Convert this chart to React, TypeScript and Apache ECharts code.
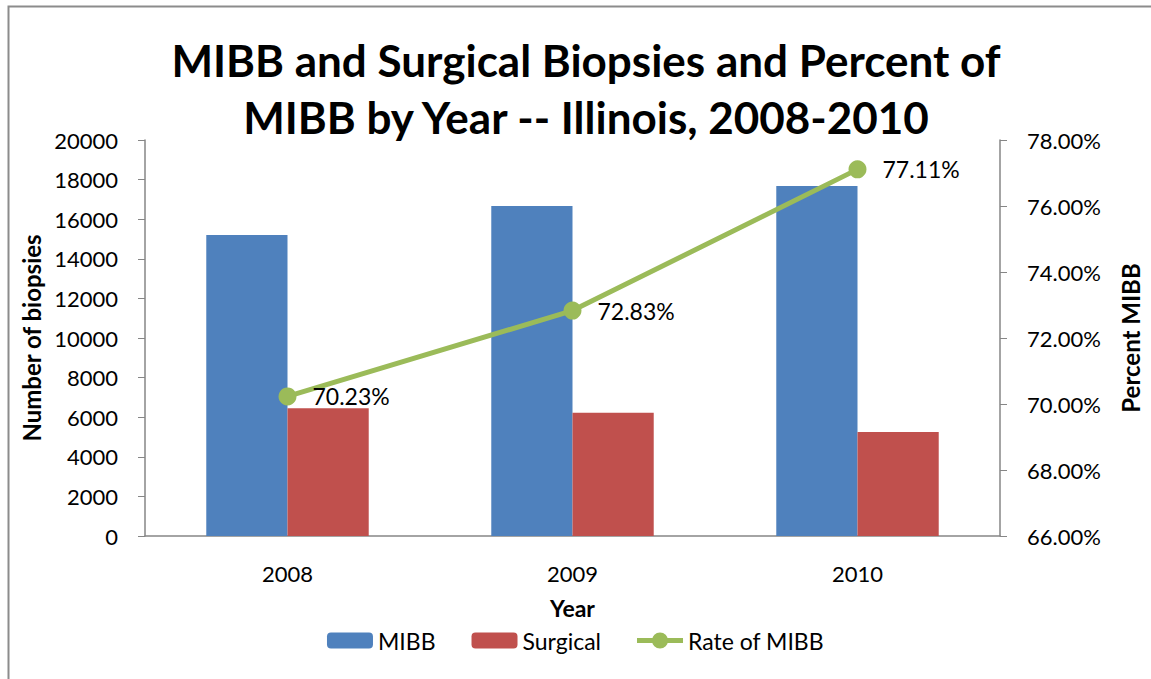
import React, { useEffect, useRef } from "react";
import * as echarts from "echarts";

const categories = ["2008", "2009", "2010"];
const mibb = [15200, 16670, 17680];
const surgical = [6450, 6220, 5250];
const rate = [70.23, 72.83, 77.11];

const FONT = "Lato, 'Open Sans', sans-serif";
const LINE_ICON =
  "path://M0,5.5 L46,5.5 L46,10.5 L0,10.5 Z M31,8 A8,8 0 1,1 15,8 A8,8 0 1,1 31,8 Z";

export default function App() {
  const ref = useRef<HTMLDivElement>(null);
  useEffect(() => {
    const chart = echarts.init(ref.current!, null, { renderer: "svg" });
    chart.setOption({
      animation: false,
      backgroundColor: "#ffffff",
      textStyle: { fontFamily: FONT },
      title: {
        text: "MIBB and Surgical Biopsies and Percent of\nMIBB by Year -- Illinois, 2008-2010",
        left: 581,
        textAlign: "center",
        top: 26,
        textStyle: { fontFamily: FONT, fontSize: 44, fontWeight: "bold", color: "#000", lineHeight: 57 },
      },
      graphic: [
        {
          type: "rect",
          shape: { x: 8.5, y: 6.5, width: 1300, height: 800 },
          style: { fill: "none", stroke: "#8c8c8c", lineWidth: 2 },
          silent: true,
        },
      ],
      legend: {
        bottom: 22,
        left: "center",
        itemGap: 36,
        itemWidth: 46,
        itemHeight: 16,
        textStyle: { fontFamily: FONT, fontSize: 23, color: "#000" },
        data: [
          { name: "MIBB" },
          { name: "Surgical" },
          { name: "Rate of MIBB", icon: LINE_ICON, itemStyle: { color: "#9bbb59", borderWidth: 0 } },
        ],
      },
      grid: { left: 145, right: 151, top: 140, bottom: 143 },
      xAxis: {
        type: "category",
        data: categories,
        name: "Year",
        nameLocation: "middle",
        nameGap: 60,
        nameTextStyle: { fontFamily: FONT, fontSize: 23, fontWeight: "bold", color: "#000" },
        axisLine: { lineStyle: { color: "#868686", width: 1.5 } },
        axisTick: { show: false },
        axisLabel: { fontFamily: FONT, fontSize: 22, color: "#000", margin: 26 },
      },
      yAxis: [
        {
          type: "value",
          min: 0,
          max: 20000,
          interval: 2000,
          name: "Number of biopsies",
          nameLocation: "middle",
          nameGap: 100,
          nameRotate: 90,
          nameTextStyle: { fontFamily: FONT, fontSize: 24, fontWeight: "bold", color: "#000" },
          axisLine: { show: true, lineStyle: { color: "#868686", width: 1.5 } },
          axisTick: { show: true, length: 7, lineStyle: { color: "#868686" } },
          axisLabel: {
            fontFamily: FONT,
            fontSize: 22,
            color: "#000",
            margin: 27,
            formatter: (v: number) => String(v),
          },
          splitLine: { show: false },
        },
        {
          type: "value",
          min: 66,
          max: 78,
          interval: 2,
          name: "Percent MIBB",
          nameLocation: "middle",
          nameGap: 118,
          nameRotate: 90,
          nameTextStyle: { fontFamily: FONT, fontSize: 24, fontWeight: "bold", color: "#000" },
          axisLine: { show: true, lineStyle: { color: "#868686", width: 1.5 } },
          axisTick: { show: true, length: 7, lineStyle: { color: "#868686" } },
          axisLabel: {
            fontFamily: FONT,
            fontSize: 22,
            color: "#000",
            margin: 27,
            formatter: (v: number) => v.toFixed(2) + "%",
          },
          splitLine: { show: false },
        },
      ],
      series: [
        {
          name: "MIBB",
          type: "bar",
          data: mibb,
          barGap: "0%",
          barCategoryGap: "43%",
          itemStyle: { color: "#4f81bd" },
        },
        {
          name: "Surgical",
          type: "bar",
          data: surgical,
          itemStyle: { color: "#c0504d" },
        },
        {
          name: "Rate of MIBB",
          type: "line",
          yAxisIndex: 1,
          data: rate,
          symbol: "circle",
          symbolSize: 18,
          lineStyle: { color: "#9bbb59", width: 5 },
          itemStyle: { color: "#9bbb59" },
          label: {
            show: true,
            position: "right",
            distance: 16,
            fontFamily: FONT,
            fontSize: 23,
            color: "#000",
            formatter: (p: any) => p.value.toFixed(2) + "%",
          },
        },
      ],
    });
    return () => chart.dispose();
  }, []);
  return (
    <div
      ref={ref}
      style={{ position: "fixed", left: 0, top: 0, width: 1151, height: 679 }}
    />
  );
}
